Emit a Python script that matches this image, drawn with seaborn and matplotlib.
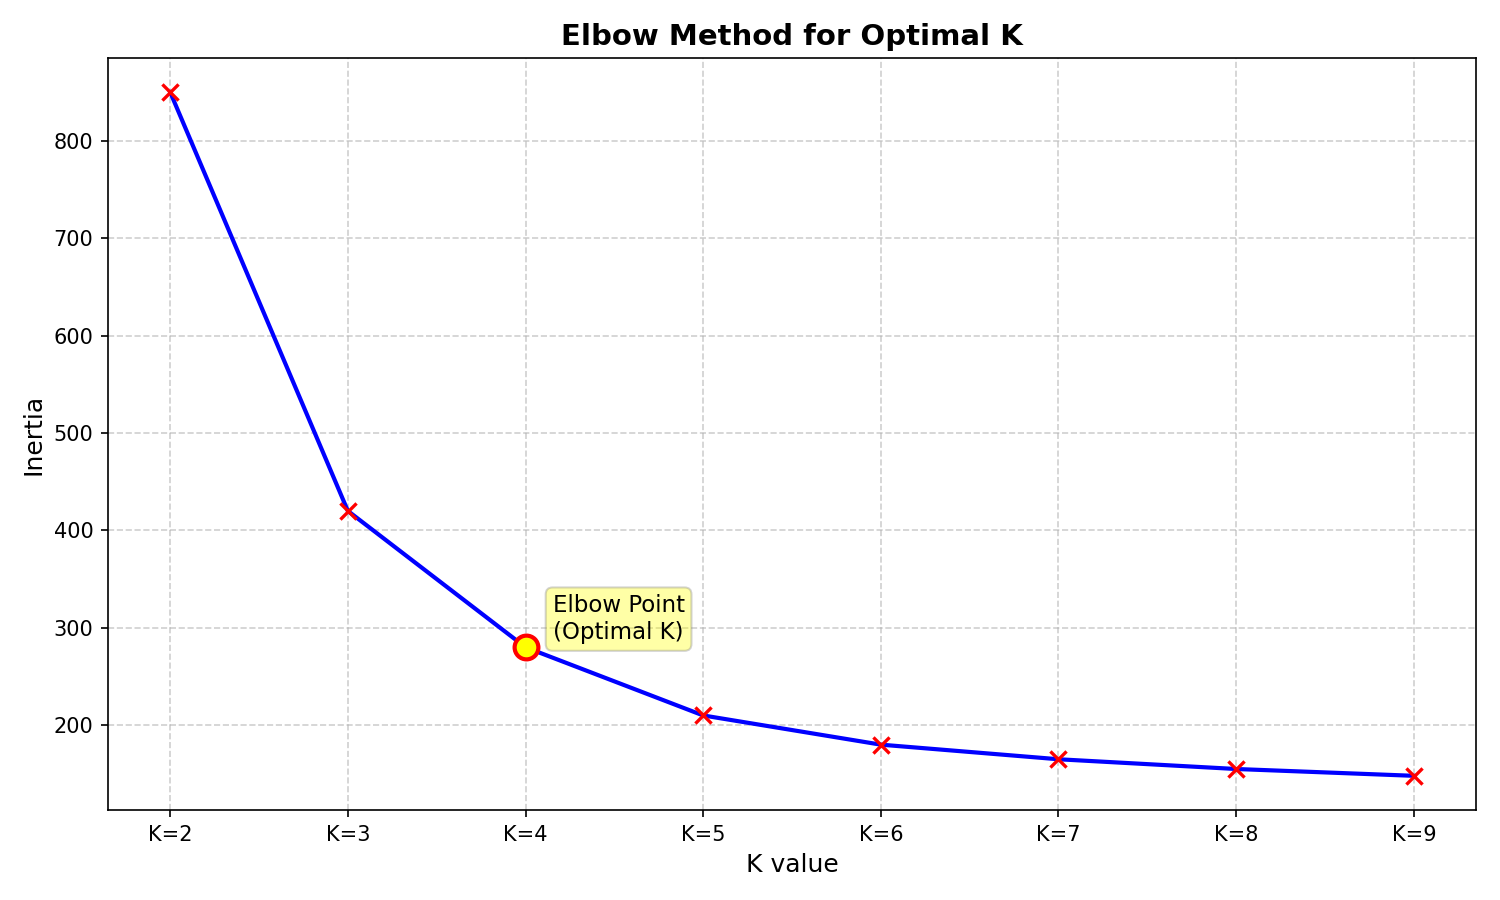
import pandas as pd
import seaborn as sns
import matplotlib.pyplot as plt

# Inertia values
k_values = [2, 3, 4, 5, 6, 7, 8, 9]
k_labels = ["K=2", "K=3", "K=4", "K=5", "K=6", "K=7", "K=8", "K=9"]
inertia = [850, 420, 280, 210, 180, 165, 155, 148]
elbow_k = 4

df = pd.DataFrame({"k": k_values, "inertia": inertia})
elbow = df[df["k"] == elbow_k]

# Keep matplotlib's default look (black text and spines)
plt.rcParams['font.family'] = ['DejaVu Sans']

fig, ax = plt.subplots(figsize=(10, 6), dpi=150)

# Line and the point markers
sns.lineplot(data=df, x="k", y="inertia", color="blue", linewidth=2, ax=ax, zorder=2)
sns.scatterplot(data=df, x="k", y="inertia", marker="x", color="red", s=60,
                linewidth=1.6, ax=ax, zorder=3)

# Highlight the elbow
sns.scatterplot(data=elbow, x="k", y="inertia", color="yellow", edgecolor="red",
                s=130, linewidth=2, ax=ax, zorder=4)
ax.annotate("Elbow Point\n(Optimal K)",
            xy=(elbow_k, elbow["inertia"].iloc[0]),
            xytext=(13, 4), textcoords="offset points",
            fontsize=11, ha="left", va="baseline",
            bbox=dict(boxstyle="round,pad=0.3", facecolor="yellow", edgecolor="gray", alpha=0.35))

ax.set_xticks(k_values)
ax.set_xticklabels(k_labels)
ax.grid(True, linestyle="--", alpha=0.6)
ax.set_title("Elbow Method for Optimal K", fontsize=14, fontweight="bold")
ax.set_xlabel("K value", fontsize=12)
ax.set_ylabel("Inertia", fontsize=12)

plt.subplots_adjust(left=0.072, right=0.984, top=0.9356, bottom=0.1)
plt.savefig("out.png")
plt.close()
